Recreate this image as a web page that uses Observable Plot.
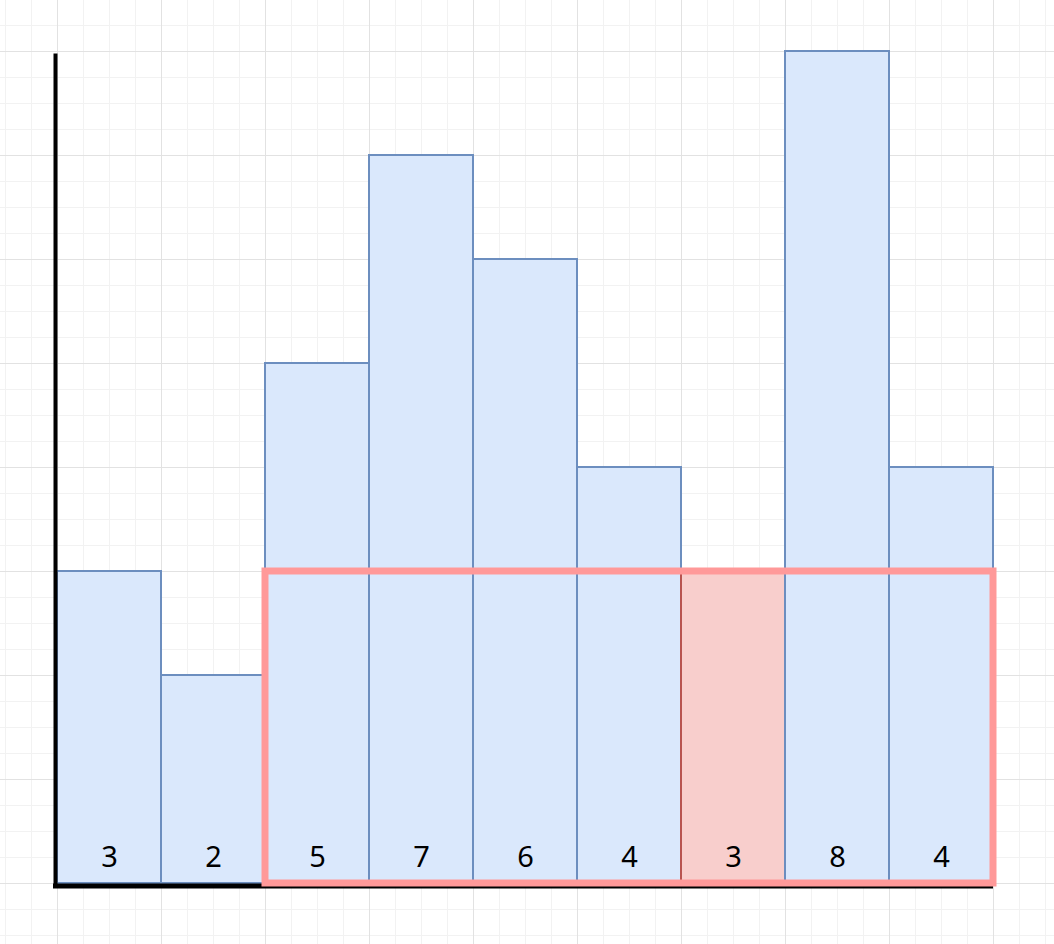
<!DOCTYPE html>
<html>
<head>
<meta charset="utf-8">
<script src="https://cdn.jsdelivr.net/npm/d3@7"></script>
<script src="https://cdn.jsdelivr.net/npm/@observablehq/plot@0.6"></script>
<style>
  html, body { margin: 0; padding: 0; background: #ffffff; }
  #chart svg { display: block; }
</style>
</head>
<body>
<div id="chart"></div>
<script>
const values = [3, 2, 5, 7, 6, 4, 3, 8, 4];
const labels = ["3", "2", "5", "7", "6", "4", "3", "8", "4"];
const highlightIndex = 6;
const windowStart = 2;
const windowEnd = 9;
const windowHeight = 3;

const W = 1054, H = 944;
const unit = 104, originX = 57, originY = 883;

const bars = values.map((v, i) => ({i, v, label: labels[i], hi: i === highlightIndex}));

const xMin = -originX / unit, xMax = (W - originX) / unit;
const yMin = -(H - originY) / unit, yMax = originY / unit;

const minorX = d3.range(Math.ceil(xMin * 4), Math.floor(xMax * 4) + 1).map(k => k / 4).filter(v => v % 1 !== 0);
const majorX = d3.range(Math.ceil(xMin), Math.floor(xMax) + 1);
const minorY = d3.range(Math.ceil(yMin * 4), Math.floor(yMax * 4) + 1).map(k => k / 4).filter(v => v % 1 !== 0);
const majorY = d3.range(Math.ceil(yMin), Math.floor(yMax) + 1);

const chart = Plot.plot({
  width: W,
  height: H,
  margin: 0,
  x: {type: "linear", domain: [xMin, xMax], range: [0, W], axis: null},
  y: {type: "linear", domain: [yMin, yMax], range: [H, 0], axis: null},
  style: {background: "#ffffff"},
  marks: [
    Plot.ruleX(minorX, {stroke: "#f2f2f2", strokeWidth: 1}),
    Plot.ruleY(minorY, {stroke: "#f2f2f2", strokeWidth: 1}),
    Plot.ruleX(majorX, {stroke: "#e2e2e2", strokeWidth: 1}),
    Plot.ruleY(majorY, {stroke: "#e2e2e2", strokeWidth: 1}),
    Plot.rect(bars, {
      x1: d => d.i, x2: d => d.i + 1, y1: 0, y2: "v",
      fill: d => d.hi ? "#f8cecc" : "#dae8fc",
      stroke: d => d.hi ? "#b85450" : "#6c8ebf",
      strokeWidth: 2
    }),
    Plot.ruleX([0], {y1: 0, y2: 8, dx: -2, dy: 2.5, insetBottom: 0, stroke: "#000000", strokeWidth: 4}),
    Plot.ruleY([0], {x1: 0, x2: values.length, dy: 2.5, insetLeft: -4, stroke: "#000000", strokeWidth: 5}),
    Plot.rect([{x1: windowStart, x2: windowEnd, y2: windowHeight}], {
      x1: "x1", x2: "x2", y1: 0, y2: "y2",
      fill: "none", stroke: "#ff9999", strokeWidth: 7
    }),
    Plot.text(bars, {
      x: d => d.i + 0.5, y: 0.25, text: "label",
      fontSize: 29, fill: "#000000", fontFamily: "Noto Sans, sans-serif"
    })
  ]
});
document.getElementById("chart").appendChild(chart);
</script>
</body>
</html>
